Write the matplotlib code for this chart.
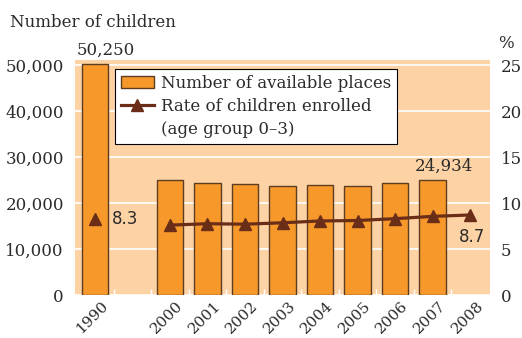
import numpy as np
import matplotlib.pyplot as plt
import matplotlib.transforms as mtransforms
from matplotlib.lines import Line2D
from matplotlib.ticker import FuncFormatter

# data
years = ["1990", "", "2000", "2001", "2002", "2003", "2004", "2005", "2006", "2007", "2008"]
places = [50250, None, 24900, 24400, 24200, 23750, 23900, 23750, 24400, 24934, None]
rate_1990 = 8.3
rate_years = ["2000", "2001", "2002", "2003", "2004", "2005", "2006", "2007", "2008"]
rate = [7.6, 7.75, 7.7, 7.85, 8.05, 8.1, 8.3, 8.55, 8.7]

bar_color = "#f7982b"
edge_color = "#5c3d22"
line_color = "#6a2d17"
bg_color = "#fdd3a5"
text_color = "#2b2b2b"

plt.rcParams["font.family"] = "DejaVu Serif"
plt.rcParams["font.size"] = 12
plt.rcParams["text.color"] = text_color
plt.rcParams["xtick.color"] = text_color
plt.rcParams["ytick.color"] = text_color

fig = plt.figure(figsize=(5.22, 3.38), dpi=100)
ax = fig.add_axes([0.1437, 0.1272, 0.7950, 0.6953])
ax.set_facecolor(bg_color)

x = np.arange(len(years))
bar_x = [i for i, v in enumerate(places) if v is not None]
bar_h = [v for v in places if v is not None]
bars = ax.bar(bar_x, bar_h, width=0.7, color=bar_color, edgecolor=edge_color,
              linewidth=1.0, zorder=3)

ax.set_xlim(-0.53, 10.53)
ax.set_ylim(0, 51100)
ax.set_yticks(np.arange(0, 50001, 10000))
ax.yaxis.set_major_formatter(FuncFormatter(lambda v, p: f"{int(v):,}"))
ax.grid(axis="y", color="white", linewidth=1.2, zorder=1)
ax.set_xticks(x)
ax.set_xticklabels(years, rotation=45, ha="right", va="center",
                   rotation_mode="anchor", fontsize=11)
ax.set_xticks(x[:-1] + 0.5, minor=True)
ax.tick_params(axis="x", which="major", length=0, pad=2)
ax.tick_params(axis="x", which="minor", direction="in", length=4, color="white", width=1)
ax.tick_params(axis="y", length=4, color="white", width=1.2, pad=4)
for s in ax.spines.values():
    s.set_visible(False)

# shift rotated year labels so their upper end sits right of the bar centre
offset = mtransforms.ScaledTranslation(11 / 100, -6 / 100, fig.dpi_scale_trans)
for lbl in ax.get_xticklabels():
    lbl.set_transform(lbl.get_transform() + offset)

# enrolment rate on the right-hand axis
ax2 = ax.twinx()
ax2.set_ylim(0, 25.55)
ax2.set_yticks(np.arange(0, 26, 5))
ax2.tick_params(axis="y", length=0, pad=8)
for s in ax2.spines.values():
    s.set_visible(False)

rx = [years.index(y) for y in rate_years]
line, = ax2.plot(rx, rate, color=line_color, linewidth=2.3, marker="^",
                 markersize=8.5, zorder=4)
ax2.plot([0], [rate_1990], color=line_color, marker="^", markersize=8.5,
         linestyle="none", zorder=4)
ax.set_zorder(ax2.get_zorder() - 1)
ax2.patch.set_visible(False)

# value labels
ax.text(0.3, places[0] + 1200, f"{places[0]:,}", ha="center", va="bottom")
ax.text(9.3, places[9] + 1200, f"{places[9]:,}", ha="center", va="bottom")
ax2.text(0.45, rate_1990, f"{rate_1990}", ha="left", va="center",
         fontsize=12, family="DejaVu Sans")
ax2.text(10.4, 6.3, f"{rate[-1]}", ha="right", va="center",
         fontsize=12, family="DejaVu Sans")

fig.text(0.019, 0.920, "Number of children", ha="left", va="baseline")
fig.text(0.955, 0.858, "%", ha="left", va="baseline")

# legend: the rate handle sits on the first line of its two-line label
blank = Line2D([], [], linestyle="none")
leg = ax2.legend([bars, line, blank],
                 ["Number of available places", "Rate of children enrolled",
                  "(age group 0\u20133)"],
                 loc="upper left", bbox_to_anchor=(0.096, 0.962), borderaxespad=0,
                 frameon=True, fancybox=False, edgecolor="black", framealpha=1,
                 borderpad=0.35, handlelength=2.0, handletextpad=0.4,
                 labelspacing=0.38, fontsize=12)
leg.get_frame().set_linewidth(0.8)

fig.savefig("out.png", dpi=100)
